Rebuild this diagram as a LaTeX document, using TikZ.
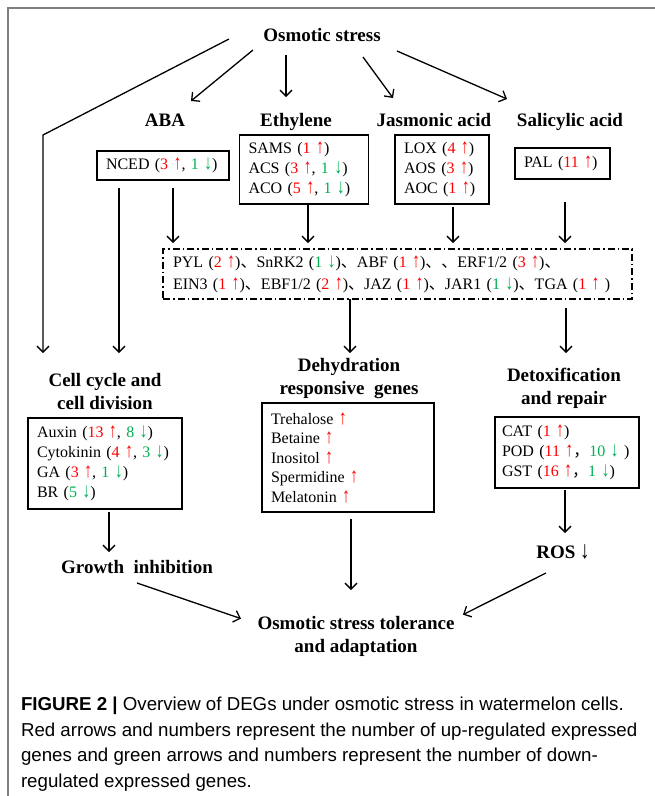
\documentclass[tikz,border=0pt]{standalone}
\usepackage{graphicx}
\usepackage{fontspec}
\setmainfont{Liberation Serif}
\newfontfamily\capfont{Liberation Sans}
\newfontfamily\cjk{Noto Sans CJK SC}
\usetikzlibrary{arrows.meta,positioning}
\definecolor{upred}{RGB}{255,0,0}
\definecolor{dngreen}{RGB}{0,176,80}
\definecolor{framegray}{RGB}{128,128,128}
\newcommand{\ua}{\scalebox{1}[1.3]{↑}}
\newcommand{\da}{\scalebox{1}[1.3]{↓}}
\newcommand{\upr}[1]{\textcolor{upred}{#1 \ua}}
\newcommand{\dng}[1]{\textcolor{dngreen}{#1 \da}}
\newcommand{\uparr}{\textcolor{upred}{\ua}}
\newcommand{\dun}{{\cjk 、}}
\newcommand{\fwc}{{\cjk ，}}

\begin{document}
\begin{tikzpicture}[x=1pt,y=-1pt,
  arr/.style={-{Straight Barb[length=6pt,width=12pt]},line width=1.3pt},
  every node/.append style={inner sep=0pt,outer sep=0pt}]
  \tikzstyle{head} = [font=\fontsize{19}{23}\selectfont\bfseries,align=center]
  \tikzstyle{gbox} = [draw,line width=1.3pt,align=left,inner xsep=9pt,font=\fontsize{16}{20}\selectfont]
  \useasboundingbox (0,0) rectangle (655,796);
  \draw[framegray,line width=1.5pt] (8,796) -- (8,8) -- (655,8);
  \node (os) [head,anchor=base] at (322,41) {Osmotic stress};
  \node (aba) [head,anchor=base] at (165,126) {ABA};
  \node (eth) [head,anchor=base] at (296,126) {Ethylene};
  \node (ja) [head,anchor=base] at (434,126) {Jasmonic acid};
  \node (sa) [head,anchor=base] at (570,126) {Salicylic acid};
  \node (nced) [gbox,text width=114pt,minimum height=29pt] at (163,165.5) {NCED (\upr{3}, \dng{1})};
  \node (ethbox) [gbox,text width=111pt,minimum height=69pt] at (304,169.5)
    {SAMS (\upr{1})\\ACS (\upr{3}, \dng{1})\\ACO (\upr{5}, \dng{1})};
  \node (jabox) [gbox,text width=76pt,minimum height=69pt] at (442,169.5)
    {LOX (\upr{4})\\AOS (\upr{3})\\AOC (\upr{1})};
  \node (pal) [gbox,text width=77pt,minimum height=31pt] at (562.5,163.5) {PAL (\upr{11})};
  \node (dash) [gbox,dash pattern=on 7pt off 3pt on 1.5pt off 3pt,inner xsep=10pt,text width=449pt,
    minimum height=50pt,font=\fontsize{16}{22}\selectfont] at (397.5,274)
    {PYL (\upr{2})\dun SnRK2 (\dng{1})\dun ABF (\upr{1})\dun\dun ERF1/2 (\upr{3})\dun\\
     EIN3 (\upr{1})\dun EBF1/2 (\upr{2})\dun JAZ (\upr{1})\dun JAR1 (\dng{1})\dun TGA (\upr{1} )};
  \node (cell) [head,anchor=north] at (105,373.5) {Cell cycle and\\cell division};
  \node (dehyd) [head,anchor=north] at (349,358.5) {Dehydration\\responsive\ \ genes};
  \node (detox) [head,anchor=north] at (564,368.5) {Detoxification\\and repair};
  \node (cellbox) [gbox,text width=136pt,minimum height=91pt] at (105,463.5)
    {Auxin (\upr{13}, \dng{8})\\Cytokinin (\upr{4}, \dng{3})\\GA (\upr{3}, \dng{1})\\BR (\dng{5})};
  \node (dehbox) [gbox,text width=154pt,minimum height=109pt,font=\fontsize{16}{19.5}\selectfont] at (348,457.5)
    {Trehalose \uparr\\Betaine \uparr\\Inositol \uparr\\Spermidine \uparr\\Melatonin \uparr};
  \node (detbox) [gbox,inner xsep=7pt,text width=130pt,minimum height=71pt] at (567,452.5)
    {CAT (\upr{1})\\POD (\upr{11}\fwc\dng{10} )\\GST (\upr{16}\fwc\dng{1})};
  \node (growth) [head,anchor=base] at (137,573.5) {Growth\ \ inhibition};
  \node (ros) [head,anchor=base] at (563,558.5) {ROS \textmd{\da}};
  \node (tol) [head,anchor=north] at (356,616.5) {Osmotic stress tolerance\\and adaptation};
  \node (cap) [anchor=north west,align=left,font=\capfont\fontsize{18.7}{25.6}\selectfont] at (21,697)
    {\textbf{FIGURE 2} \textbf{|} Overview of DEGs under osmotic stress in watermelon cells.\\
     Red arrows and numbers represent the number of up-regulated expressed\\
     genes and green arrows and numbers represent the number of down-\\
     regulated expressed genes.};
  \coordinate (bend) at (43,135);
  \draw[arr] ([xshift=-93pt,yshift=2pt]os.base) -- (bend) -- ([yshift=20.5pt]bend |- cell.north);
  \draw[arr] ([xshift=-69pt,yshift=-9pt]os.base) -- ([xshift=26pt,yshift=25pt]aba.base);
  \draw[arr] ([xshift=-36pt,yshift=-14pt]os.base) -- ([xshift=-10pt,yshift=29pt]eth.base);
  \draw[arr] ([xshift=41pt,yshift=-16pt]os.base) -- ([xshift=-41pt,yshift=28pt]ja.base);
  \draw[arr] ([xshift=75pt,yshift=-10pt]os.base) -- ([xshift=-63pt,yshift=27pt]sa.base);
  \draw[arr] ([xshift=22pt,yshift=-8pt]nced.south west) -- ([xshift=14pt,yshift=20.5pt]cell.north);
  \draw[arr] ([xshift=76pt,yshift=-8pt]nced.south west) -- ([xshift=10pt,yshift=6pt]dash.north west);
  \draw[arr] ([xshift=4pt]ethbox.south) -- ([xshift=145pt,yshift=6pt]dash.north west);
  \draw[arr] ([xshift=11pt,yshift=-3pt]jabox.south) -- ([xshift=290pt,yshift=6pt]dash.north west);
  \draw[arr] ([xshift=2.5pt,yshift=-23pt]pal.south) -- ([xshift=402pt,yshift=6pt]dash.north west);
  \draw[arr] ([xshift=187pt]dash.south west) -- ([xshift=1pt,yshift=5.5pt]dehyd.north);
  \draw[arr] ([xshift=403pt,yshift=-9pt]dash.south west) -- ([xshift=2pt,yshift=15.5pt]detox.north);
  \draw[arr] ([xshift=4pt,yshift=-3pt]cellbox.south) -- ([xshift=-28pt,yshift=21.5pt]growth.base);
  \draw[arr] ([xshift=3pt,yshift=-7pt]dehbox.south) -- ([xshift=-5pt,yshift=26.5pt]tol.north);
  \draw[arr] ([xshift=-2pt,yshift=-2pt]detbox.south) -- ([xshift=2pt,yshift=25.5pt]ros.base);
  \draw[arr] ([yshift=-9.5pt]growth.base) -- ([xshift=-16.5pt,yshift=18pt]tol.west);
  \draw[arr] ([xshift=-17pt,yshift=-14.5pt]ros.base) -- ([xshift=8.5pt,yshift=22pt]tol.east);
\end{tikzpicture}
\end{document}
